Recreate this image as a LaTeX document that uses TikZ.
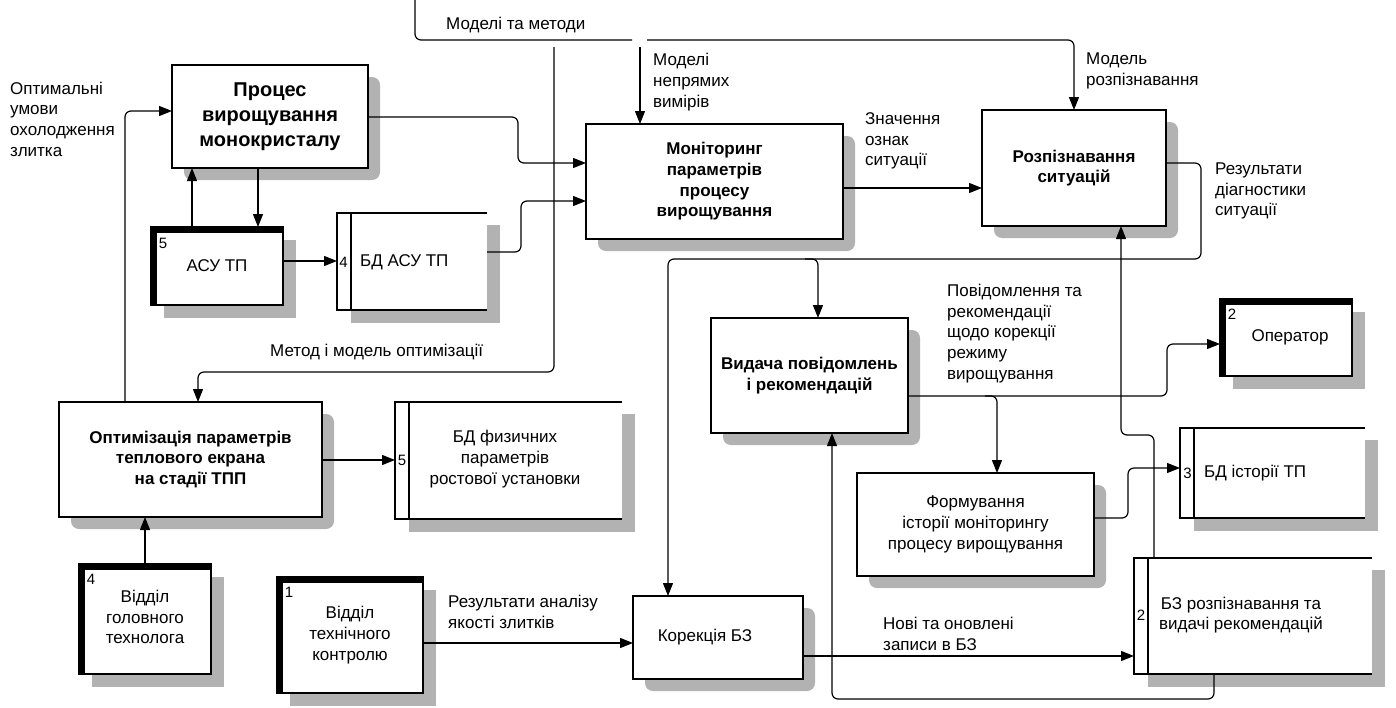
\documentclass[tikz,border=0pt]{standalone}
\usepackage{fontspec}
\setmainfont{Liberation Sans}
\usetikzlibrary{arrows.meta,calc,backgrounds}
\pgfdeclarelayer{bgzero}
\pgfsetlayers{bgzero,background,main}
\newcommand\myfs{\fontsize{17}{20.7}\selectfont}
\newcommand\mynum{\fontsize{15}{18}\selectfont}
\tikzset{
  lbl/.style={font=\myfs, align=left, inner sep=0pt, anchor=west},
  ctxt/.style={font=\myfs, align=center, inner sep=0pt},
  numtxt/.style={font=\mynum, inner sep=0pt},
  procbox/.style={draw, line width=2.8pt, fill=white, inner sep=0pt, outer sep=0pt,
     align=center, font=\bfseries\myfs},
  extbox/.style={draw, line width=2.6pt, fill=white, inner sep=0pt, outer sep=0pt,
     align=center, font=\myfs},
  dsbox/.style={draw=none, fill=white, inner sep=0pt, outer sep=0pt},
  dsline/.style={line width=2.4pt},
  thickside/.style={line width=6pt},
  shade/.style={fill=black!30},
  conn/.style={line width=1.2pt, rounded corners=6pt},
  arr/.style={-{Triangle[length=13pt,width=10pt]}},
}
\begin{document}
\begin{tikzpicture}[x=1pt,y=-1pt]
\begin{pgfonlayer}{bgzero}
\fill[white] (0,0) rectangle (1396,707);
\end{pgfonlayer}
\useasboundingbox (0,0) rectangle (1396,707);

% ---------- process boxes ----------
\node[procbox, minimum width=196pt, minimum height=103pt, font=\bfseries\fontsize{20}{25}\selectfont]
  (proc) at (270,116.5) {Процес\\вирощування\\монокристалу};
\node[procbox, minimum width=257pt, minimum height=115pt]
  (mon) at (714.5,181.5) {Моніторинг\\параметрів\\процесу\\вирощування};
\node[procbox, minimum width=184pt, minimum height=116pt]
  (rec) at (1074,168) {Розпізнавання\\ситуацій};
\node[procbox, minimum width=197pt, minimum height=115pt]
  (vyd) at (809.5,375.5) {Видача повідомлень\\і рекомендацій};
\node[procbox, minimum width=263pt, minimum height=115pt]
  (opt) at (190.5,459.5) {Оптимізація параметрів\\теплового екрана\\на стадії ТПП};
\node[procbox, minimum width=237pt, minimum height=103pt, font=\myfs]
  (form) at (975.5,524.5) {Формування\\історії моніторингу\\процесу вирощування};
\node[procbox, minimum width=170pt, minimum height=83pt, font=\myfs]
  (kor) at (718,637.5) {\hspace*{-26pt}Корекція БЗ};

% ---------- external entities ----------
\node[extbox, minimum width=132pt, minimum height=78pt] (asu) at (217,266) {АСУ ТП};
\node[extbox, minimum width=132pt, minimum height=77pt] (oper) at (1286,337.5) {\hspace*{8pt}Оператор};
\node[extbox, minimum width=132pt, minimum height=110pt] (tech) at (145,619) {\raisebox{-3pt}{\begin{tabular}{@{}c@{}}Відділ\\головного\\технолога\end{tabular}}};
\node[extbox, minimum width=146pt, minimum height=116pt] (otk) at (350,635) {Відділ\\технічного\\контролю};
\foreach \n in {asu,oper,tech,otk}{
  \draw[thickside] ([xshift=3pt]\n.south west) -- ([xshift=3pt,yshift=-3pt]\n.north west) -- ([yshift=-3pt]\n.north east);
}
\node[numtxt] (asun) at (163,243) {5};
\node[numtxt] (opern) at (1232,314) {2};
\node[numtxt] (techn) at (91,579) {4};
\node[numtxt] (otkn) at (289,592) {1};

% ---------- data stores ----------
\node[dsbox, minimum width=150pt, minimum height=97pt] (ds1) at (412,261.5) {};
\node[dsbox, minimum width=227pt, minimum height=117pt] (ds2) at (508.5,460.5) {};
\node[dsbox, minimum width=185pt, minimum height=90pt] (ds3) at (1272.5,473) {};
\node[dsbox, minimum width=238pt, minimum height=116pt] (ds4) at (1253,616) {};
\foreach \n in {ds1,ds2,ds3,ds4}{
  \draw[dsline] (\n.north east) -- (\n.north west) -- (\n.south west) -- (\n.south east);
  \draw[dsline] ([xshift=14pt]\n.north west) -- ([xshift=14pt]\n.south west);
}
\node[numtxt] (ds1n) at (343.5,262) {4};
\node[lbl] (ds1t) at (360,262) {БД АСУ ТП};
\node[numtxt] (ds2n) at (402,460) {5};
\node[ctxt] (ds2t) at (505,459) {БД физичних\\параметрів\\ростової установки};
\node[numtxt] (ds3n) at (1187.5,473) {3};
\node[lbl] (ds3t) at (1204,473) {БД історії ТП};
\node[numtxt] (ds4n) at (1141,615) {2};
\node[ctxt] (ds4t) at (1241,615) {БЗ розпізнавання та\\видачі рекомендацій};

% ---------- shadows ----------
\begin{pgfonlayer}{background}
\foreach \n in {proc,mon,rec,vyd,opt,form,kor}{
  \fill[shade, rounded corners=8pt] ([shift={(12pt,-12pt)}]\n.south west) rectangle ([shift={(12pt,-12pt)}]\n.north east);
}
\foreach \n in {asu,oper,tech,otk}{
  \fill[shade] ([shift={(13pt,-13pt)}]\n.south west) rectangle ([shift={(13pt,-13pt)}]\n.north east);
}
\foreach \n in {ds1,ds2,ds3,ds4}{
  \fill[shade] ([shift={(14pt,-12pt)}]\n.north west) rectangle ([shift={(13pt,-13pt)}]\n.south east);
}
\end{pgfonlayer}

% ---------- labels ----------
\node[lbl] (l1) at (446,25) {Моделі та методи};
\node[lbl] (l2) at (653,82) {Моделі\\непрямих\\вимірів};
\node[lbl] (l3) at (1086,71) {Модель\\розпізнавання};
\node[lbl] (l4) at (10,119) {Оптимальні\\умови\\охолодження\\злитка};
\node[lbl] (l5) at (865,141) {Значення\\ознак\\ситуації};
\node[lbl] (l6) at (1215,191) {Результати\\діагностики\\ситуації};
\node[lbl] (l7) at (947,333.5) {Повідомлення та\\рекомендації\\щодо корекції\\режиму\\вирощування};
\node[lbl] (l8) at (270,352) {Метод і модель оптимізації};
\node[lbl] (l9) at (448,612) {Результати аналізу\\якості злитків};
\node[lbl] (l10) at (883,634) {Нові та оновлені\\записи в БЗ};

% ---------- connectors ----------
\coordinate (topin) at (415,0);
\coordinate (topgapL) at (632,40);
\coordinate (topgapR) at (647,40);
\coordinate (brA) at (640,47);
\coordinate (brB) at (554,47);
\draw[conn] (topin) -- (415,40) -- (topgapL);
\draw[conn,arr] (topgapR) -- (rec.north |- 0,40) -- (rec.north);
\draw[conn,arr] (brA) -- (640,0 |- mon.north);
\draw[conn,arr] (brB) -- (554,372) -- (198,372) -- (198,0 |- opt.north);

\draw[conn,arr] (proc.east |- 0,117) -- (518,117) -- (518,163) -- (mon.west |- 0,163);
\draw[conn,arr] (ds1.east |- 0,252) -- (521,252) -- (521,201) -- (mon.west |- 0,201);
\draw[conn,arr] (192,0 |- asu.north) -- (192,0 |- proc.south);
\draw[conn,arr] (258,0 |- proc.south) -- (258,0 |- asu.north);
\draw[conn,arr] (asu.east |- 0,261) -- (ds1.west |- 0,261);
\draw[conn,arr] (125,0 |- opt.north) -- (125,111) -- (proc.west |- 0,111);
\draw[conn,arr] (145,0 |- tech.north) -- (145,0 |- opt.south);
\draw[conn,arr] (opt.east |- 0,460) -- (ds2.west |- 0,460);
\draw[conn,arr] (mon.east |- 0,188) -- (rec.west |- 0,188);
\draw[conn,arr] (rec.east |- 0,163) -- (1201,163) -- (1201,259) -- (668,259) -- (668,0 |- kor.north);
\draw[conn,arr] (805,259) -- (818,259) -- (818,0 |- vyd.north);
\draw[conn,arr] (vyd.east |- 0,396) -- (1167,396) -- (1167,344) -- (oper.west |- 0,344);
\draw[conn,arr] (985,396) -- (997,396) -- (997,0 |- form.north);
\draw[conn,arr] (form.east |- 0,518) -- (1128,518) -- (1128,468) -- (ds3.west |- 0,468);
\draw[conn,arr] (1154,0 |- ds4.north) -- (1154,435) -- (1121,435) -- (1121,0 |- rec.south);
\draw[conn,arr] (1214,0 |- ds4.south) -- (1214,699) -- (832,699) -- (832,0 |- vyd.south);
\draw[conn,arr] (otk.east |- 0,643) -- (kor.west |- 0,643);
\draw[conn,arr] (kor.east |- 0,656) -- (ds4.west |- 0,656);
\end{tikzpicture}
\end{document}
